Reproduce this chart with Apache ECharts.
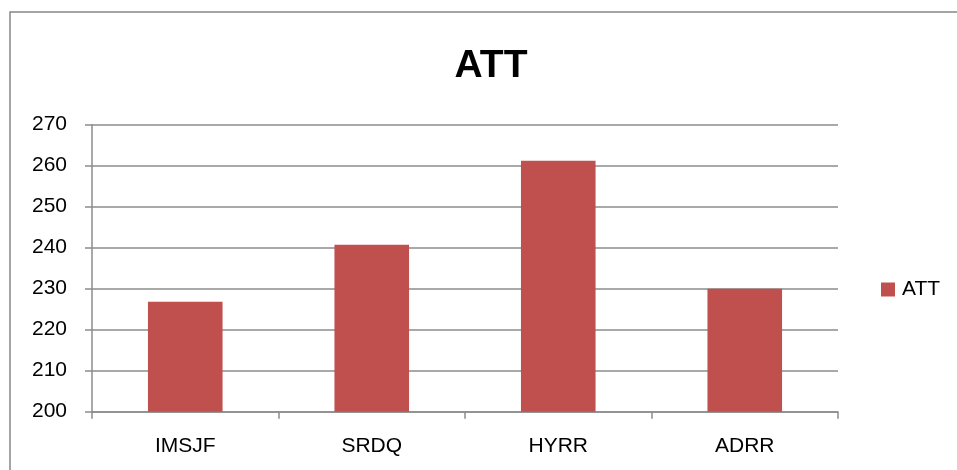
<!DOCTYPE html>
<html>
<head>
<meta charset="utf-8">
<script src="https://cdn.jsdelivr.net/npm/echarts@6/dist/echarts.min.js"></script>
<style>
  html, body { margin: 0; padding: 0; background: #fff; }
  #chart { width: 957px; height: 470px; }
</style>
</head>
<body>
<div id="chart"></div>
<script>
// ATT by site
const categories = ['IMSJF', 'SRDQ', 'HYRR', 'ADRR'];
const attValues = [226.8, 240.7, 261.2, 230.0];
const seriesName = 'ATT';
const yMin = 200, yMax = 270, yStep = 10;

const font = '"Liberation Sans", Arial, sans-serif';
const gray = '#8c8c8c';

const chart = echarts.init(document.getElementById('chart'), null, { renderer: 'canvas' });
chart.setOption({
  animation: false,
  backgroundColor: '#ffffff',
  graphic: [{
    type: 'rect',
    shape: { x: 10, y: 12, width: 1000, height: 500 },
    style: { fill: 'none', stroke: '#878787', lineWidth: 1.5 },
    silent: true
  }],
  title: {
    text: seriesName,
    left: 486,
    textAlign: 'center',
    top: 42,
    textStyle: { fontFamily: font, fontSize: 39, fontWeight: 'bold', color: '#000' }
  },
  legend: {
    data: [seriesName],
    left: 881,
    top: 279,
    padding: 0,
    icon: 'rect',
    itemWidth: 14,
    itemHeight: 14,
    textStyle: { fontFamily: font, fontSize: 21, color: '#000', padding: [0, 0, 0, 2] }
  },
  grid: { left: 92, right: 119, top: 124.7, bottom: 58.3, containLabel: false },
  xAxis: {
    type: 'category',
    data: categories,
    boundaryGap: true,
    axisLine: { show: true, lineStyle: { color: gray, width: 1.5 } },
    axisTick: { show: true, alignWithLabel: false, length: 7, lineStyle: { color: gray, width: 1.5 } },
    axisLabel: { fontFamily: font, fontSize: 21, color: '#000', margin: 24 },
    splitLine: { show: false }
  },
  yAxis: {
    type: 'value',
    min: yMin,
    max: yMax,
    interval: yStep,
    axisLine: { show: true, lineStyle: { color: gray, width: 1.5 } },
    axisTick: { show: true, length: 7, lineStyle: { color: gray, width: 1.5 } },
    axisLabel: { fontFamily: font, fontSize: 21, color: '#000', margin: 25 },
    splitLine: { show: true, lineStyle: { color: gray, width: 1.5 } }
  },
  series: [{
    name: seriesName,
    type: 'bar',
    data: attValues,
    barWidth: '40%',
    itemStyle: { color: '#c0504d' }
  }]
});
</script>
</body>
</html>
